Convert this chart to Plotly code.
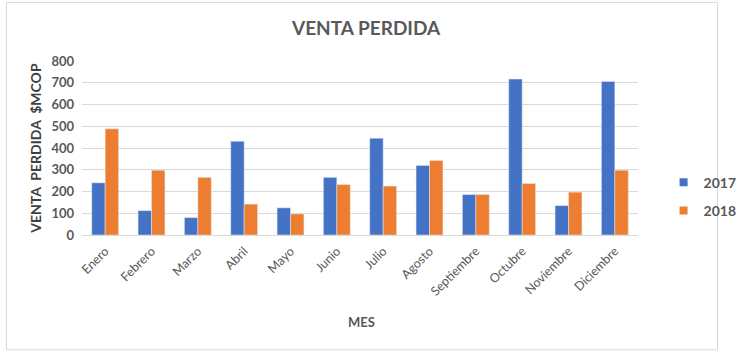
import plotly.graph_objects as go

meses = ["Enero", "Febrero", "Marzo", "Abril", "Mayo", "Junio", "Julio",
         "Agosto", "Septiembre", "Octubre", "Noviembre", "Diciembre"]
v2017 = [240, 112, 80, 431, 125, 265, 445, 320, 186, 717, 135, 706]
v2018 = [488, 298, 265, 142, 97, 232, 225, 343, 186, 237, 197, 298]
series_names = ["2017", "2018"]
colors = ["#4472C4", "#ED7D31"]
y_ticks = [0, 100, 200, 300, 400, 500, 600, 700, 800]

FONT = "Lato"
GRAY = "#595959"

fig = go.Figure()
for name, vals, col, grp in zip(series_names, [v2017, v2018], colors, ["a", "b"]):
    fig.add_trace(go.Bar(x=meses, y=vals, name=name, marker_color=col,
                         legendgroup=grp, showlegend=False))
    # legend entry with small square symbol (like the reference)
    fig.add_trace(go.Scatter(x=[None], y=[None], mode="markers", name=f"<b>{name}</b>",
                             marker=dict(symbol="square", size=8, color=col),
                             legendgroup=grp, showlegend=True))

fig.update_layout(
    width=754, height=352,
    margin=dict(l=82, r=86, t=61, b=117),
    paper_bgcolor="white", plot_bgcolor="white",
    barmode="group", bargap=0.42, bargroupgap=0,
    font=dict(family=FONT, color=GRAY, size=12),
    showlegend=True,
    legend=dict(x=1.046, xanchor="left", y=0.22, yanchor="middle",
                font=dict(size=14, color=GRAY, family=FONT),
                tracegroupgap=7, itemwidth=30, bgcolor="rgba(0,0,0,0)"),
    xaxis=dict(tickangle=-45, showgrid=False, showline=True,
               linecolor="#D9D9D9", linewidth=1, ticks="",
               ticklabelstandoff=3,
               tickfont=dict(size=12.5, color=GRAY, family=FONT)),
    yaxis=dict(range=[0, 800], tickvals=y_ticks, showgrid=True,
               gridcolor="#D9D9D9", gridwidth=1, zeroline=False,
               showline=False, ticks="", ticklabelstandoff=7,
               tickfont=dict(size=13, color=GRAY, family=FONT, weight="bold")),
    shapes=[dict(type="rect", xref="paper", yref="paper",
                 x0=-0.136, x1=1.143, y0=-0.66, y1=1.337,
                 line=dict(color="#D9D9D9", width=1), fillcolor="rgba(0,0,0,0)",
                 layer="below")],
    annotations=[
        dict(text="<b>VENTA PERDIDA</b>", xref="paper", yref="paper",
             x=0.51, y=1.19, xanchor="center", yanchor="middle",
             showarrow=False, font=dict(size=19, color=GRAY, family=FONT)),
        dict(text="<b>VENTA  PERDIDA  $MCOP</b>", xref="paper", yref="paper",
             x=-0.085, y=0.5, xanchor="center", yanchor="middle", textangle=-90,
             showarrow=False, font=dict(size=14, color="#404040", family=FONT)),
        dict(text="<b>MES</b>", xref="paper", yref="paper",
             x=0.502, y=-0.5, xanchor="center", yanchor="middle",
             showarrow=False, font=dict(size=13, color=GRAY, family=FONT)),
    ],
)

fig.write_html("out.html")
